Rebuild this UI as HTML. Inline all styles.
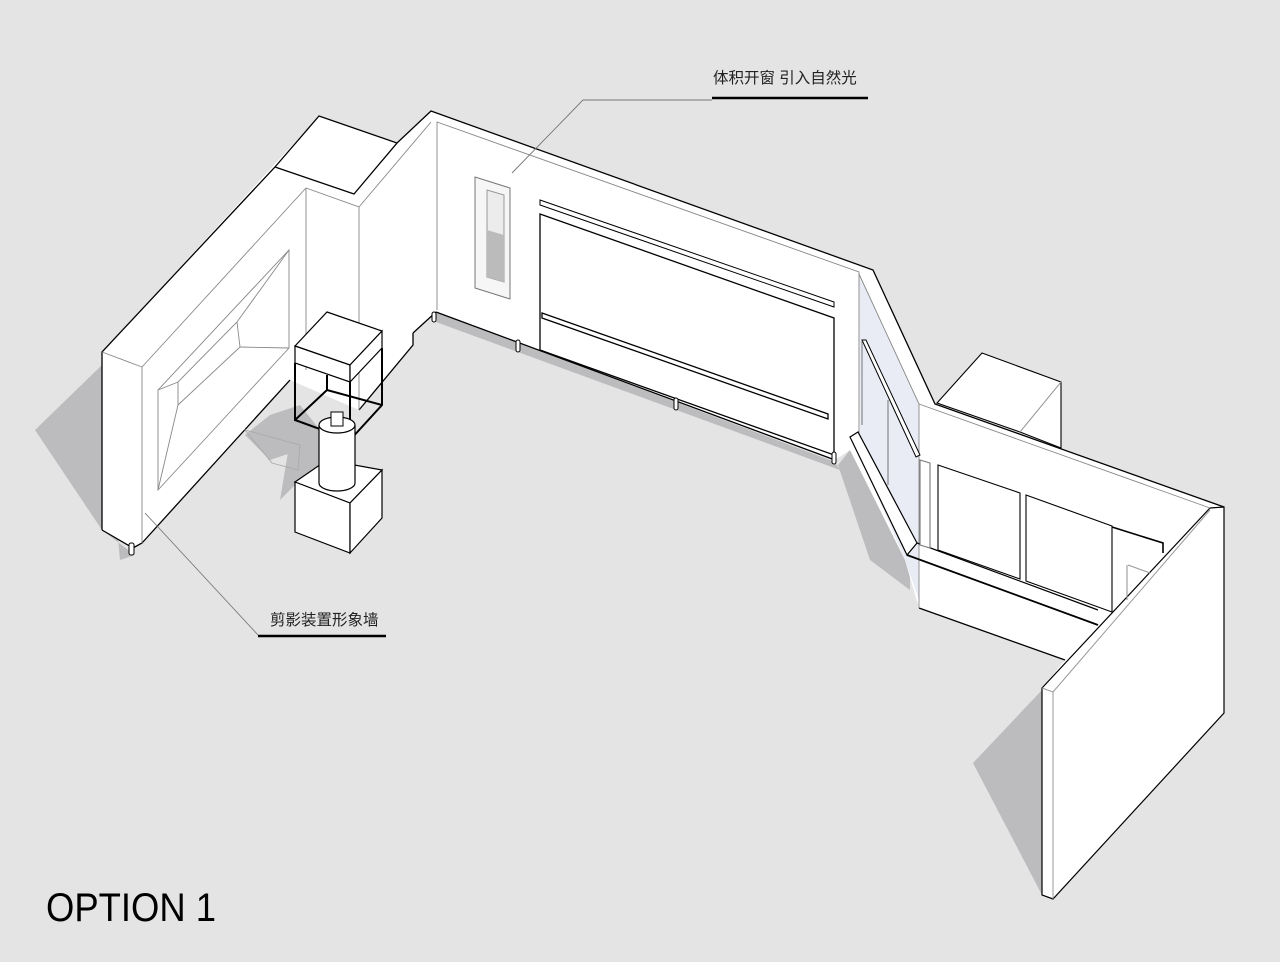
<!DOCTYPE html>
<html><head><meta charset="utf-8"><style>
html,body{margin:0;padding:0;background:#e4e4e4;}
svg{display:block}
text{font-family:"Liberation Sans","Noto Sans CJK SC",sans-serif;}
</style></head><body>
<svg width="1280" height="962" viewBox="0 0 1280 962" xmlns="http://www.w3.org/2000/svg">
<rect width="1280" height="962" fill="#e4e4e4"/>
<!-- shadows -->
<g fill="#bcbcbe">
<polygon points="102,365 35,430 102,530 135,555 120,560"/>
<polygon points="245,435 270,460 300,450 320,430 300,405 270,415"/>
<polygon points="290,440 350,420 340,470 300,480 280,500"/>
<polygon points="436,312 835,462 840,470 436,322"/>
<polygon points="838,465 850,450 910,560 910,590 870,560"/>
<polygon points="1042,690 973,763 1042,895"/>
</g>
<!-- silhouette fill -->
<polygon fill="#fff" points="102,352 319,116 397,143 431,111 873,270 935,404 1224,507 1224,713 1053,899 1042,895 1042,688 1065,660 919,608 905,560 850,450 835,460 436,312 413,333 413,345 359,410 290,380 142,543 133,548 102,530"/>
<!-- blue face -->
<polygon fill="#e9ecf5" points="859,274 919,404 919,600 905,560 860,455"/>
<!-- right end wall -->
<polygon fill="#fff" stroke="#000" stroke-width="1.2" points="1042,688 1210,508 1224,507 1224,713 1053,899 1042,895"/>
<line x1="1053" y1="692" x2="1053" y2="899" stroke="#999"/>
<line x1="1053" y1="692" x2="1210" y2="510" stroke="#999"/>
<line x1="1042" y1="688" x2="1053" y2="692" stroke="#999"/>
<!-- outlines -->
<g fill="none" stroke="#000" stroke-width="1.3">
<polyline points="102,530 102,352 275,167 319,116 397,143 354,194 275,167"/>
<polyline points="397,143 431,111 873,270 935,404 1224,507"/>
<polyline points="102,530 133,548 142,543 290,380"/>
<polyline points="436,312 835,460"/>
<polyline points="413,333 436,312"/>
<polyline points="359,410 413,345 413,333"/>
<polyline points="919,608 1065,660"/>
</g>
<g fill="none" stroke="#888" stroke-width="0.9">
<polyline points="102,352 142,367 142,543"/>
<polyline points="142,367 306,188 359,207 359,410"/>
<line x1="306" y1="188" x2="306" y2="370"/>
<polyline points="437,310 437,122 859,272 859,455"/>
<line x1="859" y1="274" x2="919" y2="404"/>
<line x1="919" y1="404" x2="919" y2="608"/>
<line x1="919" y1="404" x2="1210" y2="508"/>
<line x1="359" y1="207" x2="431" y2="122"/>
<!-- silhouette window on left wall -->
<polygon points="158,390 289,250 289,348 158,490"/>
<polyline points="158,390 178,382 237,322 289,250"/>
<polyline points="178,382 178,405 158,490"/>
<line x1="178" y1="405" x2="240" y2="347"/>
<line x1="237" y1="322" x2="240" y2="347"/>
<line x1="240" y1="347" x2="289" y2="348"/>
<polygon points="245,430 272,463 298,470 300,445" stroke="#aaa"/>
</g>
<!-- narrow window -->
<polygon points="475,177 510,188 510,299 475,288" fill="#f6f6f6" stroke="#777"/>
<polygon points="487,190 504,195 504,282 487,277" fill="#ececec" stroke="#999"/>
<polygon points="487,230 504,235 504,282 487,277" fill="#bbb"/>
<!-- big panel -->
<polygon points="540,214 834,318 834,455 540,350" fill="#fff" stroke="#000" stroke-width="1.3"/>
<polygon points="540,200 834,302 834,307 540,205" fill="#fff" stroke="#000"/>
<polygon points="542,313 828,414 828,419 542,318" fill="#fff" stroke="#000" stroke-width="1.3"/>
<!-- legs -->
<g fill="#fff" stroke="#000" stroke-width="1">
<rect x="129" y="543" width="5" height="12" rx="2"/>
<rect x="432" y="312" width="4" height="10" rx="2"/>
<rect x="516" y="340" width="4" height="12" rx="2"/>
<rect x="674" y="398" width="4" height="12" rx="2"/>
<rect x="832" y="452" width="4" height="12" rx="2"/>
</g>
<!-- bent shelf and panels on right -->
<g fill="none" stroke="#000" stroke-width="1.2">
<polygon points="850,437 858,432 917,543 907,555" fill="#fff"/>
<polyline points="907,555 1098,625" stroke-width="1.8"/>
<polyline points="917,543 1098,610"/>
<polygon points="862,340 866,340 920,455 916,457" fill="#fff" stroke-width="1"/>
<line x1="862" y1="340" x2="862" y2="425" stroke="#555" stroke-width="0.8"/>
<line x1="888" y1="400" x2="888" y2="485" stroke="#555" stroke-width="0.8"/>
</g>
<g fill="#fff" stroke="#000" stroke-width="1.1">
<polygon points="920,460 930,463 930,548 920,545" stroke="#777"/>
<polygon points="938,465 1020,493 1020,579 938,550"/>
<polygon points="1026,495 1112,526 1112,612 1026,581"/>
<polyline points="1112,527 1163,543 1163,553" fill="none" stroke-width="1.6"/>
<polyline points="1128,565 1150,573" fill="none" stroke="#999"/>
<line x1="1127" y1="565" x2="1127" y2="600" stroke="#999"/>
</g>
<!-- box behind right -->
<polygon points="937,403 982,353 1061,382 1061,448 1020,432" fill="#fff" stroke="#000" stroke-width="1.1"/>
<line x1="1020" y1="432" x2="1061" y2="382" stroke="#999"/>
<!-- display case -->
<g stroke="#000" stroke-width="1.2">
<polygon points="295,346 327,312 382,331 350,365" fill="#fff"/>
<polygon points="295,346 350,365 350,382 295,363" fill="#fff"/>
<polygon points="350,365 382,331 382,348 350,382" fill="#fff"/>
<g fill="none" stroke-width="2">
<polyline points="295,363 295,420 350,440 382,405 382,348"/>
<line x1="350" y1="382" x2="350" y2="440"/>
<polyline points="295,420 327,390 382,405"/>
<line x1="327" y1="375" x2="327" y2="390"/>
</g>
<polygon points="295,482 327,460 382,470 350,503" fill="#fff"/>
<polygon points="295,482 350,503 350,553 295,532" fill="#fff"/>
<polygon points="350,503 382,470 382,518 350,553" fill="#fff"/>
<path d="M319,425 L319,483 A18,8 0 0 0 355,483 L355,425" fill="#fff"/>
<ellipse cx="337" cy="425" rx="18" ry="8" fill="#fff"/>
<rect x="331" y="412" width="12" height="14" fill="#fff" stroke-width="1"/>
</g>
<!-- labels -->
<polyline points="512,173 583,100 712,100" fill="none" stroke="#777" stroke-width="0.9"/>
<line x1="712" y1="98" x2="868" y2="98" stroke="#000" stroke-width="2.5"/>
<text x="713" y="83" font-size="15.5" fill="#222">体积开窗 引入自然光</text>
<polyline points="145,513 258,635" fill="none" stroke="#777" stroke-width="0.9"/>
<line x1="258" y1="636" x2="386" y2="636" stroke="#000" stroke-width="2.5"/>
<text x="270" y="625" font-size="15.5" fill="#222">剪影装置形象墙</text>
<text x="46" y="921" font-size="40" fill="#000" textLength="170" lengthAdjust="spacingAndGlyphs">OPTION 1</text>
</svg>
</body></html>
